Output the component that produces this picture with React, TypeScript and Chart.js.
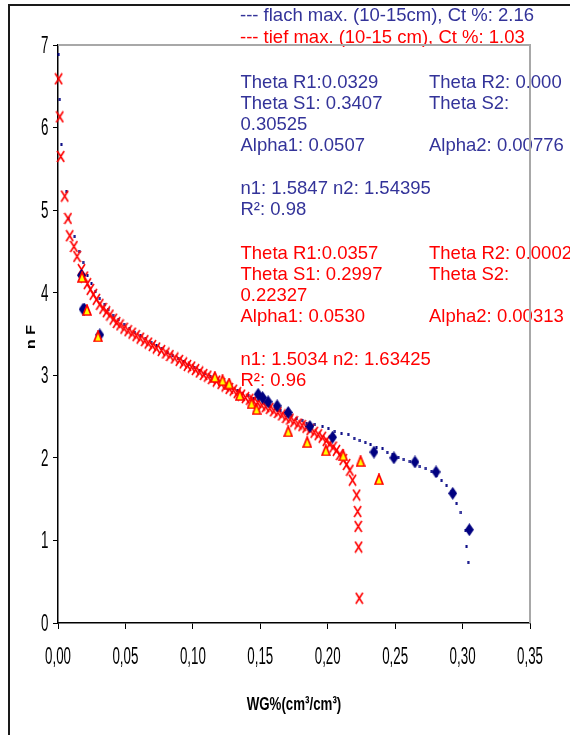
import React, { useEffect, useRef } from "react";
import { Chart, registerables } from "chart.js";
Chart.register(...registerables);

// ---------- tick labels ----------
const xTickValues = [0, 0.05, 0.1, 0.15, 0.2, 0.25, 0.3, 0.35];
const xTickLabels = ["0,00", "0,05", "0,10", "0,15", "0,20", "0,25", "0,30", "0,35"];
const yTickValues = [0, 1, 2, 3, 4, 5, 6, 7];
const yTickLabels = ["0", "1", "2", "3", "4", "5", "6", "7"];
const xTitle = "WG%(cm³/cm³)";
const yTitle = "n F";

// ---------- flach: fitted curve (navy dots) ----------
const flachFitWG = [
  0.0005, 0.0013, 0.0025, 0.0062, 0.0079, 0.0124, 0.0156, 0.0186, 0.0218, 0.0248,
  0.0277, 0.031, 0.0347, 0.0371, 0.0408, 0.045, 0.049, 0.053, 0.057, 0.061,
  0.065, 0.069, 0.073, 0.077, 0.081, 0.085, 0.089, 0.093, 0.097, 0.101,
  0.105, 0.109, 0.113, 0.117, 0.121, 0.125, 0.129, 0.133, 0.137, 0.141,
  0.145, 0.149, 0.153, 0.157, 0.161, 0.165, 0.169, 0.173, 0.177, 0.181,
  0.1844, 0.1905, 0.1962, 0.2004, 0.2053, 0.2103, 0.2152, 0.2196, 0.2239, 0.2278,
  0.2318, 0.2362, 0.2407, 0.2441, 0.2481, 0.2523, 0.2565, 0.261, 0.2647, 0.2684,
  0.2728, 0.2771, 0.2808, 0.2845, 0.2882, 0.2919, 0.2956, 0.2988, 0.3023, 0.303,
  0.3042,
];
const flachFitPF = [
  6.88, 6.34, 5.79, 5.22, 4.9, 4.68, 4.5, 4.36, 4.21, 4.11,
  4.02, 3.93, 3.86, 3.8, 3.73, 3.67, 3.62, 3.57, 3.52, 3.48,
  3.44, 3.4, 3.36, 3.32, 3.28, 3.24, 3.2, 3.17, 3.13, 3.1,
  3.06, 3.02, 2.99, 2.95, 2.92, 2.88, 2.85, 2.81, 2.78, 2.75,
  2.72, 2.69, 2.66, 2.63, 2.6, 2.57, 2.54, 2.51, 2.48, 2.45,
  2.42, 2.41, 2.38, 2.36, 2.32, 2.3, 2.28, 2.24, 2.21, 2.19,
  2.16, 2.13, 2.11, 2.07, 2.04, 2.01, 1.98, 1.96, 1.93, 1.9,
  1.87, 1.83, 1.79, 1.73, 1.67, 1.59, 1.45, 1.34, 1.12, 0.93,
  0.73,
];

// ---------- flach: measured (navy diamonds) ----------
const flachMeasWG = [0.0174, 0.0186, 0.0196, 0.031, 0.1484, 0.1517, 0.1558, 0.1625, 0.1707, 0.1868, 0.2036, 0.2343, 0.2491, 0.2647, 0.2803, 0.2927, 0.305];
const flachMeasPF = [4.21, 3.8, 3.8, 3.49, 2.77, 2.73, 2.68, 2.63, 2.55, 2.38, 2.25, 2.07, 2.0, 1.95, 1.83, 1.57, 1.13];

// ---------- tief: fitted curve (red crosses) ----------
const tiefFitWG = [
  0.0005, 0.0013, 0.002, 0.005, 0.0074, 0.0087, 0.0118, 0.0141, 0.0174, 0.0195,
  0.0218, 0.024, 0.0262, 0.0285, 0.031, 0.0334, 0.036, 0.0385, 0.041, 0.0435,
  0.046, 0.049, 0.052, 0.055, 0.058, 0.061, 0.0643, 0.067, 0.07, 0.073,
  0.0767, 0.08, 0.083, 0.0866, 0.09, 0.093, 0.096, 0.099, 0.102, 0.105,
  0.108, 0.111, 0.114, 0.1175, 0.121, 0.124, 0.127, 0.13, 0.133, 0.136,
  0.139, 0.1422, 0.145, 0.148, 0.151, 0.154, 0.157, 0.16, 0.163, 0.166,
  0.169, 0.172, 0.175, 0.178, 0.181, 0.184, 0.187, 0.19, 0.193, 0.196,
  0.199, 0.2015, 0.204, 0.2065, 0.209, 0.2115, 0.214, 0.2164, 0.2184, 0.2214,
  0.2222, 0.2226, 0.2229, 0.2234,
];
const tiefFitPF = [
  6.59, 6.13, 5.65, 5.17, 4.9, 4.69, 4.56, 4.44, 4.28, 4.19,
  4.11, 4.04, 3.98, 3.92, 3.86, 3.81, 3.77, 3.73, 3.68, 3.64,
  3.61, 3.57, 3.54, 3.51, 3.48, 3.45, 3.42, 3.39, 3.36, 3.33,
  3.3, 3.27, 3.24, 3.21, 3.18, 3.15, 3.12, 3.1, 3.07, 3.04,
  3.01, 2.99, 2.96, 2.93, 2.9, 2.87, 2.84, 2.82, 2.79, 2.76,
  2.73, 2.71, 2.69, 2.67, 2.64, 2.62, 2.6, 2.57, 2.55, 2.52,
  2.49, 2.47, 2.44, 2.41, 2.39, 2.37, 2.34, 2.31, 2.28, 2.25,
  2.21, 2.17, 2.13, 2.09, 2.04, 1.98, 1.92, 1.85, 1.73, 1.55,
  1.35, 1.17, 0.92, 0.3,
];

// ---------- tief: measured (yellow triangles) ----------
const tiefMeasWG = [0.0178, 0.0215, 0.0297, 0.1163, 0.122, 0.1269, 0.1348, 0.1435, 0.1472, 0.1707, 0.1848, 0.1986, 0.2115, 0.2244, 0.238];
const tiefMeasPF = [4.19, 3.79, 3.47, 2.98, 2.94, 2.9, 2.76, 2.66, 2.59, 2.32, 2.19, 2.09, 2.03, 1.96, 1.74];

// ---------- annotation text ----------
const flachHeader = "--- flach max. (10-15cm), Ct %: 2.16";
const tiefHeader = "--- tief max. (10-15 cm), Ct %: 1.03";
const flachLeft = ["Theta R1:0.0329", "Theta S1: 0.3407", "0.30525", "Alpha1: 0.0507", "", "n1: 1.5847 n2: 1.54395", "R²: 0.98"];
const flachRight = ["Theta R2: 0.000", "Theta S2:", "", "Alpha2: 0.00776"];
const tiefLeft = ["Theta R1:0.0357", "Theta S1: 0.2997", "0.22327", "Alpha1: 0.0530", "", "n1: 1.5034 n2: 1.63425", "R²: 0.96"];
const tiefRight = ["Theta R2: 0.0002", "Theta S2:", "", "Alpha2: 0.00313"];

const NAVY = "#000080";
const BLUE_TXT = "#333399";
const RED = "#ff0000";
const FONT = '"Liberation Sans", Arial, Helvetica, sans-serif';

function pts(xs: number[], ys: number[]) {
  return xs.map((x, i) => ({ x, y: ys[i] }));
}

function makeMarker(w: number, h: number, draw: (g: CanvasRenderingContext2D) => void) {
  const c = document.createElement("canvas");
  c.width = w;
  c.height = h;
  const g = c.getContext("2d")!;
  draw(g);
  return c;
}

export default function App() {
  const ref = useRef<HTMLCanvasElement>(null);

  useEffect(() => {
    const canvas = ref.current!;
    const dot = makeMarker(3, 3, (g) => {
      g.fillStyle = NAVY;
      g.fillRect(0.5, 0, 2, 3);
    });
    const diamond = makeMarker(9, 13, (g) => {
      g.fillStyle = NAVY;
      g.beginPath();
      g.moveTo(4.5, 0);
      g.lineTo(9, 6.5);
      g.lineTo(4.5, 13);
      g.lineTo(0, 6.5);
      g.closePath();
      g.fill();
    });
    const tri = makeMarker(10, 12, (g) => {
      g.fillStyle = "#ffff00";
      g.strokeStyle = RED;
      g.lineWidth = 1.7;
      g.beginPath();
      g.moveTo(5, 1);
      g.lineTo(9, 11);
      g.lineTo(1, 11);
      g.closePath();
      g.fill();
      g.stroke();
    });
    const cross = makeMarker(9, 13, (g) => {
      g.strokeStyle = RED;
      g.lineWidth = 1.6;
      g.beginPath();
      g.moveTo(1, 1);
      g.lineTo(8, 12);
      g.moveTo(8, 1);
      g.lineTo(1, 12);
      g.stroke();
    });

    const deco = {
      id: "deco",
      beforeDraw(chart: any) {
        const ctx = chart.ctx as CanvasRenderingContext2D;
        ctx.save();
        ctx.fillStyle = "#ffffff";
        ctx.fillRect(0, 0, chart.width, chart.height);
        ctx.fillStyle = "#1a1a1a";
        ctx.fillRect(8, 4, 2, chart.height);
        ctx.fillRect(8, 4, chart.width, 2);
        ctx.restore();
      },
      beforeDatasetsDraw(chart: any) {
        const ctx = chart.ctx as CanvasRenderingContext2D;
        const a = chart.chartArea;
        ctx.save();
        ctx.font = `18.5px ${FONT}`;
        ctx.textAlign = "left";
        ctx.textBaseline = "middle";
        ctx.fillStyle = BLUE_TXT;
        ctx.fillText(flachHeader, 240, 16);
        ctx.fillStyle = RED;
        ctx.fillText(tiefHeader, 240, 38);
        ctx.fillStyle = BLUE_TXT;
        flachLeft.forEach((t, i) => ctx.fillText(t, 240.5, 82.5 + i * 21.3));
        flachRight.forEach((t, i) => ctx.fillText(t, 429, 82.5 + i * 21.3));
        ctx.fillStyle = RED;
        tiefLeft.forEach((t, i) => ctx.fillText(t, 240.5, 253.5 + i * 21.3));
        tiefRight.forEach((t, i) => ctx.fillText(t, 429, 253.5 + i * 21.3));
        ctx.strokeStyle = "#a8a8a8";
        ctx.lineWidth = 2;
        ctx.beginPath();
        ctx.moveTo(a.left, a.top);
        ctx.lineTo(a.right, a.top);
        ctx.lineTo(a.right, a.bottom);
        ctx.stroke();
        ctx.restore();
      },
      afterDraw(chart: any) {
        const ctx = chart.ctx as CanvasRenderingContext2D;
        const xs = chart.scales.x;
        const ys = chart.scales.y;
        const a = chart.chartArea;
        ctx.save();
        ctx.fillStyle = "#000";
        ctx.font = `23px ${FONT}`;
        ctx.textBaseline = "middle";
        ctx.textAlign = "center";
        xTickValues.forEach((v, i) => {
          const px = xs.getPixelForValue(v);
          ctx.save();
          ctx.translate(px, a.bottom + 35);
          ctx.scale(0.58, 1);
          ctx.fillText(xTickLabels[i], 0, 0);
          ctx.restore();
        });
        ctx.textAlign = "right";
        yTickValues.forEach((v, i) => {
          const py = ys.getPixelForValue(v);
          ctx.save();
          ctx.translate(a.left - 9.5, py + 1.5);
          ctx.scale(0.58, 1);
          ctx.fillText(yTickLabels[i], 0, 0);
          ctx.restore();
        });
        ctx.textAlign = "center";
        ctx.font = `bold 19px ${FONT}`;
        ctx.save();
        ctx.translate((a.left + a.right) / 2, 705);
        ctx.scale(0.7, 1);
        ctx.fillText(xTitle, 0, 0);
        ctx.restore();
        ctx.font = `bold 16px ${FONT}`;
        ctx.save();
        ctx.translate(32, (a.top + a.bottom) / 2 + 3);
        ctx.scale(0.75, 1);
        ctx.rotate(-Math.PI / 2);
        ctx.fillText(yTitle, 0, 0);
        ctx.restore();
        ctx.restore();
      },
    };

    const chart = new Chart(canvas, {
      type: "scatter",
      data: {
        datasets: [
          { label: "tief gemessen", data: pts(tiefMeasWG, tiefMeasPF), pointStyle: tri as any, pointRadius: 5, showLine: false, clip: false as any },
          { label: "flach gemessen", data: pts(flachMeasWG, flachMeasPF), pointStyle: diamond as any, pointRadius: 5, showLine: false, clip: false as any },
          { label: "tief Modell", data: pts(tiefFitWG, tiefFitPF), pointStyle: cross as any, pointRadius: 5, showLine: false, clip: false as any },
          { label: "flach Modell", data: pts(flachFitWG, flachFitPF), pointStyle: dot as any, pointRadius: 2, showLine: false, clip: false as any },
        ],
      },
      options: {
        animation: false,
        responsive: false,
        events: [],
        layout: { padding: { top: 45, right: 40, left: 0, bottom: 0 } },
        plugins: {
          legend: { display: false },
          tooltip: { enabled: false },
          title: { display: false },
        },
        scales: {
          x: {
            type: "linear",
            min: 0,
            max: 0.35,
            afterBuildTicks: (s: any) => {
              s.ticks = xTickValues.map((v) => ({ value: v }));
            },
            afterFit: (s: any) => {
              s.height = 112;
            },
            ticks: { display: false },
            grid: { display: true, drawOnChartArea: false, drawTicks: true, tickLength: 6, color: "#000", lineWidth: 1 },
            border: { display: true, color: "#000", width: 1.5 },
            title: { display: false },
          },
          y: {
            type: "linear",
            min: 0,
            max: 7,
            afterBuildTicks: (s: any) => {
              s.ticks = yTickValues.map((v) => ({ value: v }));
            },
            afterFit: (s: any) => {
              s.width = 58;
            },
            ticks: { display: false },
            grid: { display: true, drawOnChartArea: false, drawTicks: true, tickLength: 5, color: "#000", lineWidth: 1 },
            border: { display: true, color: "#000", width: 1.5 },
            title: { display: false },
          },
        },
      },
      plugins: [deco],
    });
    return () => chart.destroy();
  }, []);

  return (
    <div style={{ position: "absolute", left: 0, top: 0, width: 570, height: 735, overflow: "hidden", background: "#fff" }}>
      <canvas ref={ref} width={570} height={735} style={{ width: 570, height: 735, display: "block" }} />
    </div>
  );
}
